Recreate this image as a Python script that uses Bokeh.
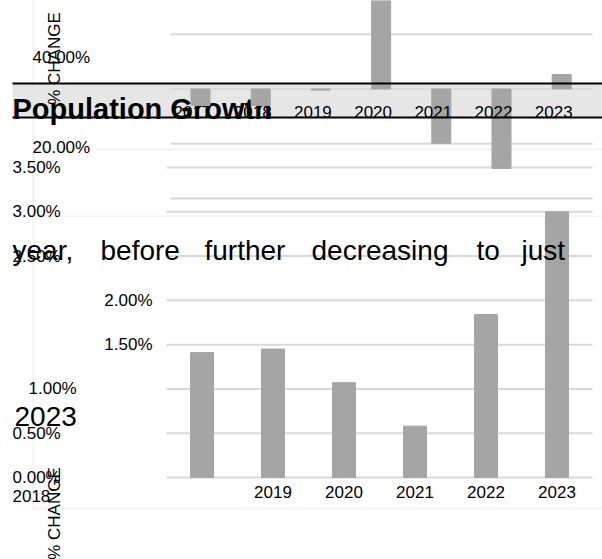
import math
import numpy as np
from bokeh.plotting import figure
from bokeh.models import (Range1d, FixedTicker, BoxAnnotation, Label, LabelSet, LinearAxis,
                          ColumnDataSource, PrintfTickFormatter, CustomJSTickFormatter)
from bokeh.core.properties import value
from bokeh.embed import file_html
from bokeh.resources import INLINE

# ---------------- data ----------------
# main chart: annual population growth (%)
years = ["2018", "2019", "2020", "2021", "2022", "2023"]
growth = [1.41, 1.45, 1.07, 0.58, 1.84, 3.00]
y_ticks = [0.0, 0.5, 1.0, 1.5, 2.0, 2.5, 3.0, 3.5]
y_ticks_on_axis = [1.5, 2.0]

# overlapping chart: % change
chg_years = ["2017", "2018", "2019", "2020", "2021", "2022", "2023"]
chg_values = [-6.0, -6.0, -0.4, 45.0, -19.8, -29.0, 5.3]
chg_grid = [-40, -20, 0, 20]
chg_tick_labels = ["40.00%", "20.00%"]

title_text = "Population Growth"
caption_words = ["year,", "before", "further", "decreasing", "to", "just"]
caption_year = "2023"
axis_title = "% CHANGE"

# ---------------- layout / style ----------------
FONT = "Liberation Sans"
W, H = 602, 559
FL, FR = 166, 592          # plot area of the main chart (canvas px)
BAR = "#a5a5a5"
GRID = "#d9d9d9"
TXT = "#000000"


def rng(v0, c0, v1, c1, c_start, c_end):
    """Range whose value v0 sits at canvas c0 and v1 at canvas c1."""
    k = (v1 - v0) / (c1 - c0)
    return Range1d(start=v0 + (c_start - c0) * k, end=v0 + (c_end - c0) * k)


p = figure(width=W, height=H,
           x_range=rng(0, 201.5, 1, 272.5, 0, W),
           y_range=rng(0.0, 477, 3.5, 167, H, 0),
           x_axis_location=None, y_axis_location=None,
           output_backend="svg", toolbar_location=None, min_border=0)
p.outline_line_color = None
p.background_fill_color = "white"
p.border_fill_color = "white"
p.grid.visible = False

p.extra_x_ranges = {"px": Range1d(0, W), "chgx": rng(0, 200, 1, 260.2, 0, W)}
p.extra_y_ranges = {"py": Range1d(H, 0), "chg": rng(0, 88.5, 20, 33.7, H, 0)}


def box(left, right, top, bottom, **kw):
    return BoxAnnotation(left=left, right=right, top=top, bottom=bottom,
                         x_range_name="px", y_range_name="py", **kw)


def label(cx, y, text, size="17px", yr="py", **kw):
    opts = dict(text_font=FONT, text_font_size=size, text_color=TXT,
                text_baseline="middle", text_align="left")
    opts.update(kw)
    return Label(x=cx, y=y, text=text, x_range_name="px", y_range_name=yr, **opts)


# outer frame lines of the underlying layer
p.add_layout(box(33, W + 20, -20, 508, fill_color=None, line_color=GRID,
                 line_width=2, level="underlay"))
p.add_layout(box(33, W + 20, 149, 216, fill_color=None, line_color=GRID,
                 line_width=2, level="underlay"))

# title band
p.add_layout(box(12, W + 20, 83, 117, fill_color="#e6e6e6", fill_alpha=1,
                 line_color=None, level="underlay"))

# grid lines
p.segment(x0=FL, x1=FR, y0=y_ticks, y1=y_ticks, x_range_name="px",
          line_color=GRID, line_width=2)
p.segment(x0=FL + 4, x1=FR, y0=chg_grid, y1=chg_grid, x_range_name="px",
          y_range_name="chg", line_color=GRID, line_width=2)

# title text (drawn before the bars, which overlap it)
p.text(x=[12], y=[108], text=[title_text], x_range_name="px", y_range_name="py",
       text_font=value(FONT), text_font_size="29px", text_font_style="bold",
       text_color=TXT, text_baseline="alphabetic", text_align="left")

# bars
p.vbar(x=np.arange(len(years)), top=growth, width=0.324, color=BAR)
p.vbar(x=np.arange(len(chg_years)), top=chg_values, width=0.316, color=BAR,
       x_range_name="chgx", y_range_name="chg")

# axes of the main chart (fixed inside the drawing area)
xax = LinearAxis(fixed_location=0.0,
                 ticker=FixedTicker(ticks=list(range(1, len(years)))),
                 formatter=CustomJSTickFormatter(args=dict(labels=years),
                                                 code="return labels[Math.round(tick)]"))
yax = LinearAxis(fixed_location=-0.5, ticker=FixedTicker(ticks=y_ticks_on_axis),
                 formatter=PrintfTickFormatter(format="%.2f%%"))
for ax, std in ((xax, 8), (yax, 14)):
    ax.axis_line_color = None
    ax.major_tick_line_color = None
    ax.minor_tick_line_color = None
    ax.major_tick_out = 0
    ax.major_tick_in = 0
    ax.major_label_standoff = std
    ax.major_label_text_font = FONT
    ax.major_label_text_font_size = "17px"
    ax.major_label_text_color = TXT
p.add_layout(xax, "below")
p.add_layout(yax, "left")

# band black rules
for yy in (83, 117):
    p.add_layout(box(12, W + 20, yy - 1, yy + 1, fill_color="black", fill_alpha=1,
                     line_color=None))

# % change year labels
src = ColumnDataSource(dict(x=np.arange(len(chg_years)), t=chg_years))
p.add_layout(LabelSet(x="x", y=117, text="t", source=src, x_range_name="chgx",
                      y_range_name="py", x_offset=-8, text_font=value(FONT),
                      text_font_size="17px", text_color=TXT,
                      text_align="center", text_baseline="alphabetic"))

# displaced tick labels of main chart
for t in y_ticks:
    if t in y_ticks_on_axis:
        continue
    xx = 28 if t == 1.0 else 12
    p.add_layout(label(xx, t, "%.2f%%" % t, yr="default"))
p.add_layout(label(12, 495, years[0]))

# displaced tick labels of % change chart
for lab, yy in zip(chg_tick_labels, (57, 147)):
    p.add_layout(label(32, yy, lab))

# axis titles
for yy in (58, 513):
    p.add_layout(label(54, yy, axis_title, angle=math.pi / 2, text_align="center"))

# overlapping caption text
word_x = [12, 100, 204, 311, 476, 521]
for wd, xx in zip(caption_words, word_x):
    p.add_layout(label(xx, 250, wd, size="28px", text_baseline="alphabetic"))
p.add_layout(label(14, 416, caption_year, size="28px", text_baseline="alphabetic"))

open("out.html", "w").write(file_html(p, INLINE))
